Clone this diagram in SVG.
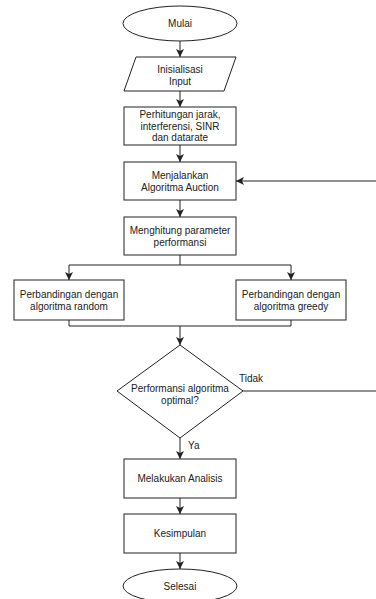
<svg xmlns="http://www.w3.org/2000/svg" width="376" height="599" viewBox="0 0 376 599">
<style>
.s{fill:#fff;stroke:#222;stroke-width:1}
.t{font-family:"Liberation Sans",Arial,sans-serif;font-size:10px;fill:#222;text-anchor:middle}
.l{font-family:"Liberation Sans",Arial,sans-serif;font-size:10px;fill:#222}
.c{fill:none;stroke:#222;stroke-width:1}
</style>
<defs>
<marker id="a" markerUnits="userSpaceOnUse" markerWidth="10" markerHeight="10" viewBox="0 0 10 10" refX="9" refY="5" orient="auto">
<path d="M1,1 L9,5 L1,9 L3,5 z" fill="#222"/>
</marker>
</defs>
<rect width="376" height="599" fill="#fff"/>
<g id="connectors">
<path class="c" d="M180,41 V57" marker-end="url(#a)"/>
<path class="c" d="M180,91 V107" marker-end="url(#a)"/>
<path class="c" d="M180,145 V162" marker-end="url(#a)"/>
<path class="c" d="M180,200 V217" marker-end="url(#a)"/>
<path class="c" d="M180,255 V265 H69 V280" marker-end="url(#a)"/>
<path class="c" d="M180,265 H291 V280" marker-end="url(#a)"/>
<path class="c" d="M69,320 V326 H291 V320"/>
<path class="c" d="M180,326 V345" marker-end="url(#a)"/>
<path class="c" d="M180,438 V459" marker-end="url(#a)"/>
<path class="c" d="M180,498 V514" marker-end="url(#a)"/>
<path class="c" d="M180,553 V569" marker-end="url(#a)"/>
<path class="c" d="M243,391 H376"/>
<path class="c" d="M376,181 H236" marker-end="url(#a)"/>
<text class="l" x="239" y="381.5">Tidak</text>
<text class="l" x="188" y="448.5">Ya</text>
</g>
<g id="mulai">
<ellipse class="s" cx="180" cy="23.5" rx="57" ry="17.5"/>
<text class="t" x="180" y="27">Mulai</text>
</g>
<g id="input">
<polygon class="s" points="136,57 236,57 224,91 124,91"/>
<text class="t" x="180" y="72.5">Inisialisasi</text>
<text class="t" x="180" y="84.5">Input</text>
</g>
<g id="perhitungan">
<rect class="s" x="124" y="107" width="112" height="38"/>
<text class="t" x="180" y="118">Perhitungan jarak,</text>
<text class="t" x="180" y="129.5">interferensi, SINR</text>
<text class="t" x="180" y="141">dan datarate</text>
</g>
<g id="auction">
<rect class="s" x="124" y="162" width="112" height="38"/>
<text class="t" x="180" y="178.5">Menjalankan</text>
<text class="t" x="180" y="190.5">Algoritma Auction</text>
</g>
<g id="parameter">
<rect class="s" x="124" y="217" width="112" height="38"/>
<text class="t" x="180" y="233.5">Menghitung parameter</text>
<text class="t" x="180" y="245.5">performansi</text>
</g>
<g id="random">
<rect class="s" x="14" y="280" width="110" height="40"/>
<text class="t" x="69" y="297.5">Perbandingan dengan</text>
<text class="t" x="69" y="309.5">algoritma random</text>
</g>
<g id="greedy">
<rect class="s" x="236" y="280" width="110" height="40"/>
<text class="t" x="291" y="297.5">Perbandingan dengan</text>
<text class="t" x="291" y="309.5">algoritma greedy</text>
</g>
<g id="decision">
<polygon class="s" points="180,345 243,391 180,438 117,391"/>
<text class="t" x="180" y="391.5">Performansi algoritma</text>
<text class="t" x="180" y="403.5">optimal?</text>
</g>
<g id="analisis">
<rect class="s" x="124" y="459" width="112" height="39"/>
<text class="t" x="180" y="482">Melakukan Analisis</text>
</g>
<g id="kesimpulan">
<rect class="s" x="124" y="514" width="112" height="39"/>
<text class="t" x="180" y="537">Kesimpulan</text>
</g>
<g id="selesai">
<ellipse class="s" cx="180" cy="586" rx="57" ry="17"/>
<text class="t" x="180" y="589.5">Selesai</text>
</g>
</svg>
